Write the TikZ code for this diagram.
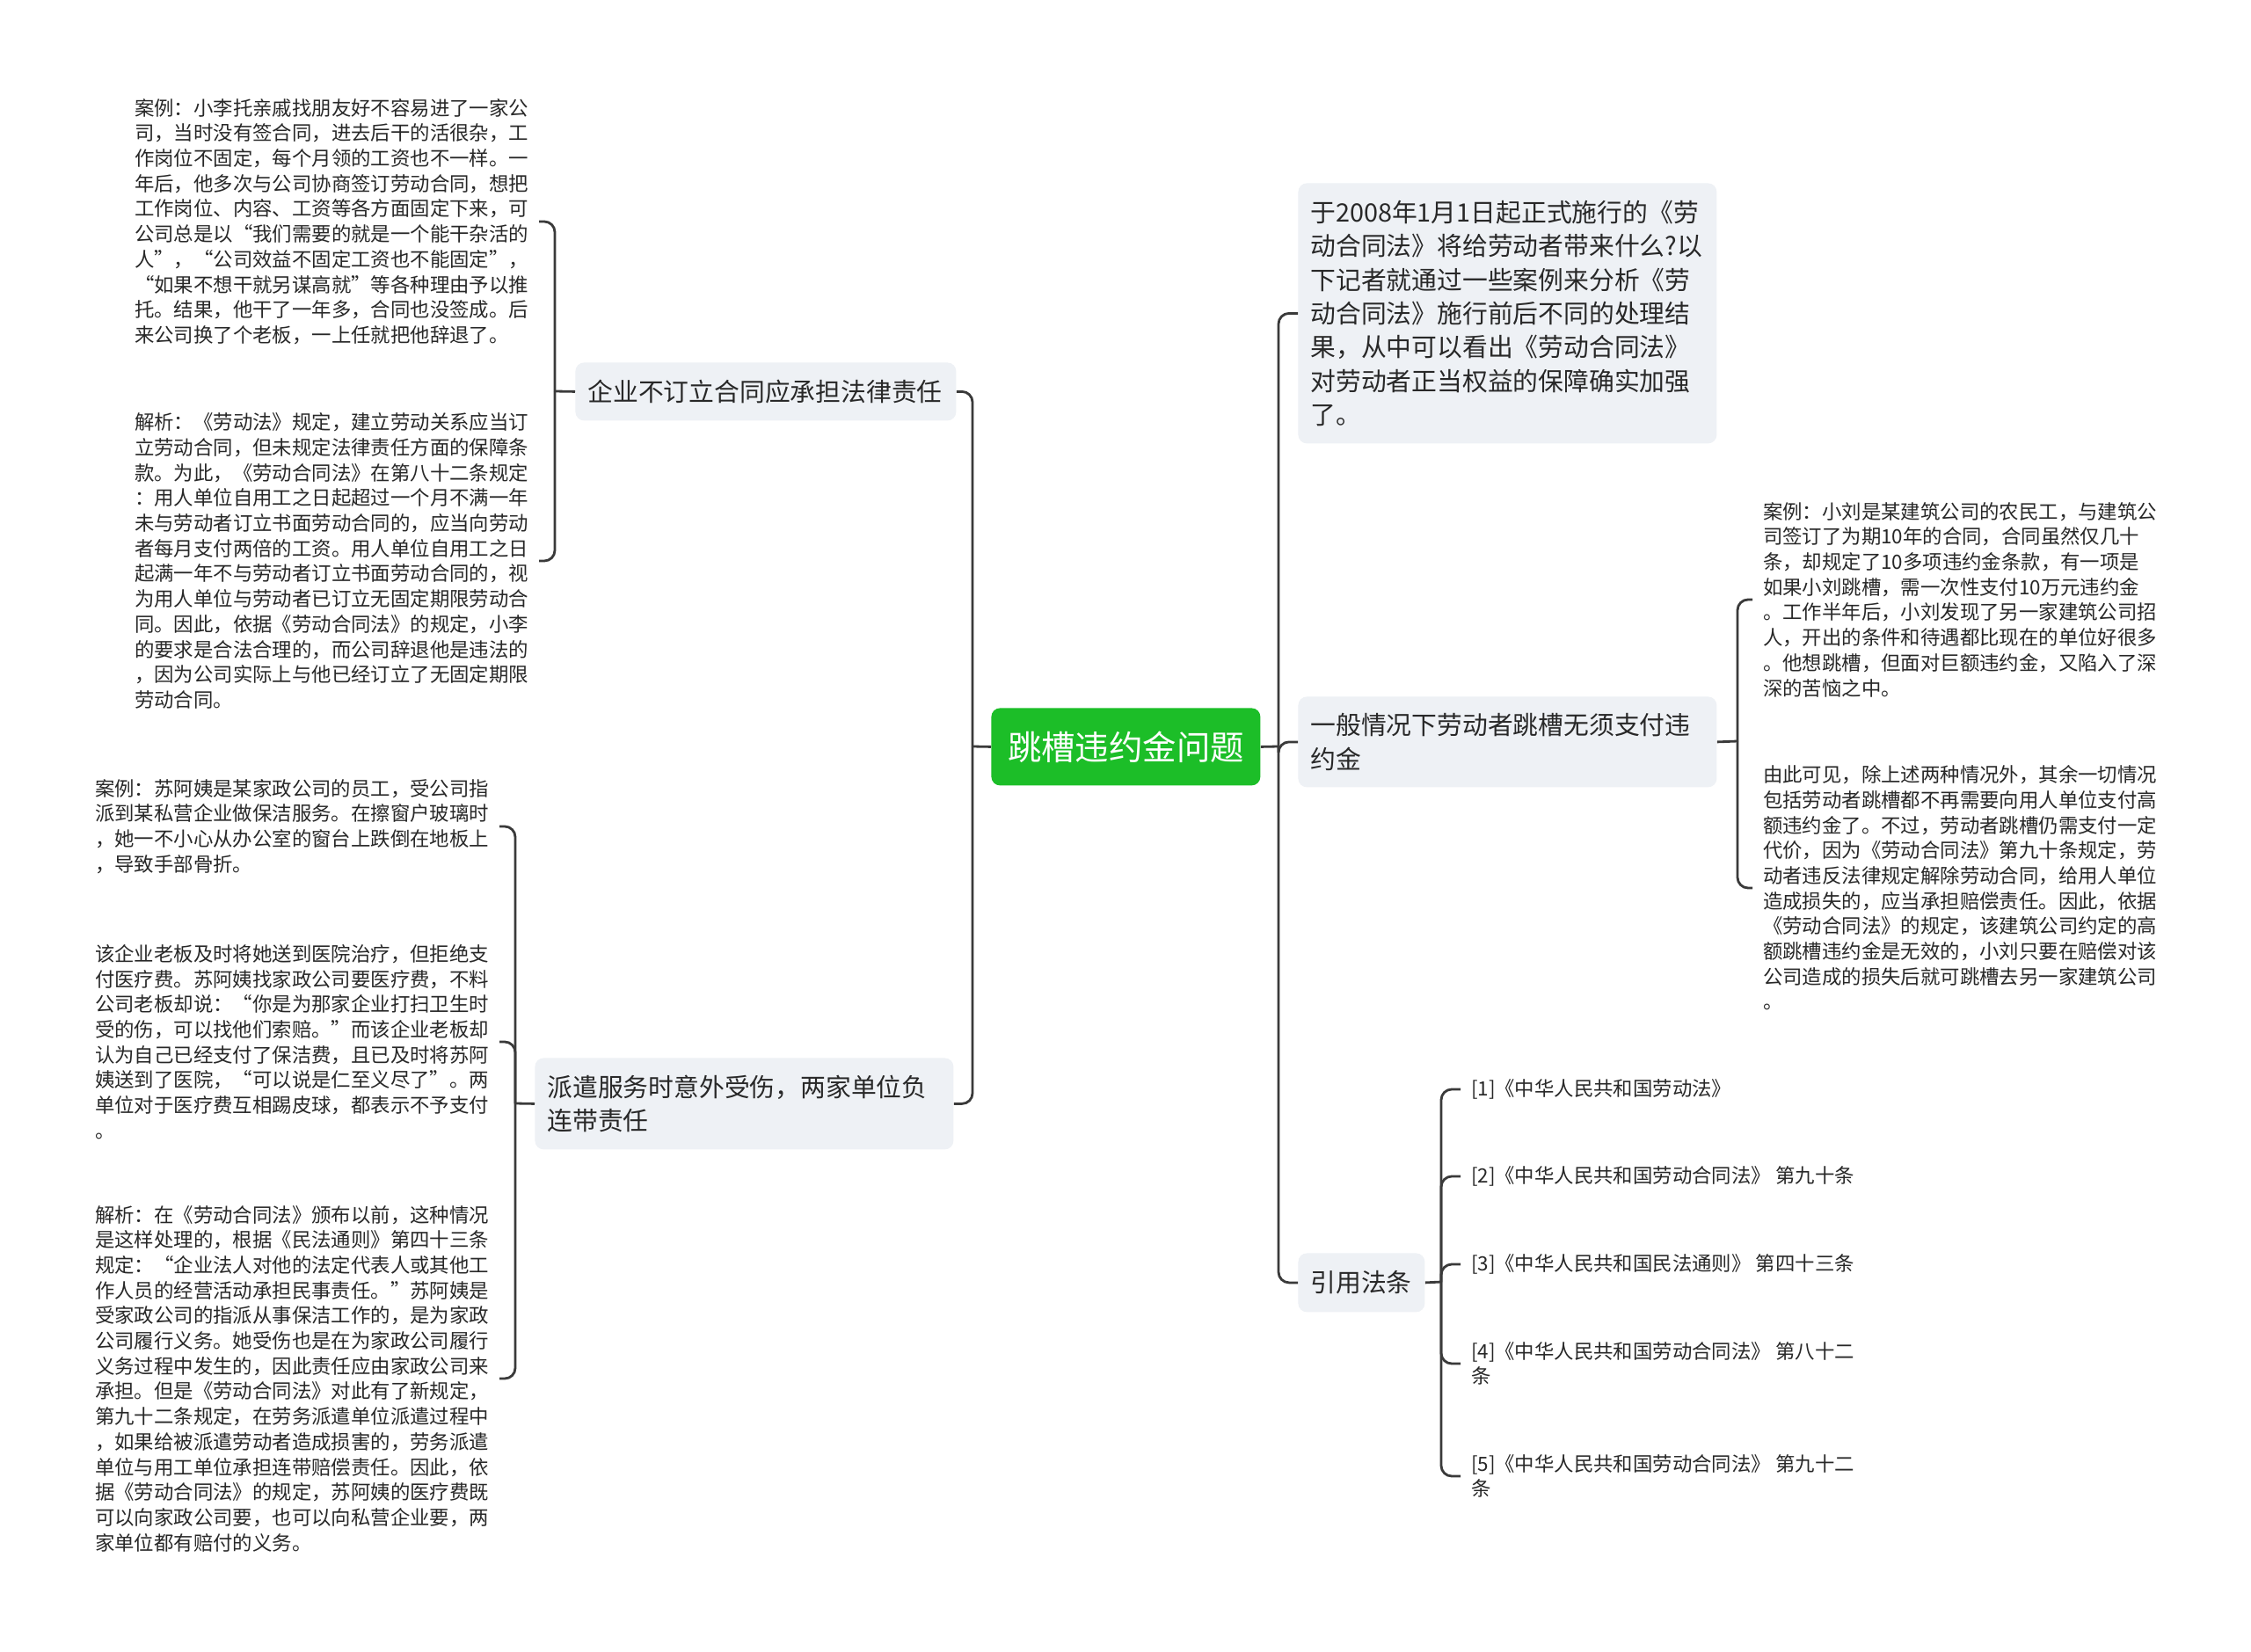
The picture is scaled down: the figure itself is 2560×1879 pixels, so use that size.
\documentclass[tikz,border=0pt]{standalone}
\usepackage{fontspec}
\setmainfont{Noto Sans CJK SC}
\newfontfamily\cjk{Noto Sans CJK SC}
\definecolor{rootgreen}{RGB}{28,190,40}
\definecolor{boxfill}{RGB}{238,241,245}
\definecolor{linecol}{RGB}{58,58,58}
\definecolor{txtcol}{RGB}{40,40,40}
\begin{document}
\begin{tikzpicture}[x=0.5pt,y=-0.5pt,
  conn/.style={draw=linecol,line width=1.4pt,rounded corners=6pt},
  leaf/.style={font=\cjk\fontsize{11.2}{14.35}\selectfont,text=txtcol,align=left,inner sep=0pt,outer xsep=6pt},
  topic/.style={font=\cjk\fontsize{14.4}{19.15}\selectfont,text=txtcol,fill=boxfill,rounded corners=5pt,align=left,inner xsep=7pt,inner ysep=0pt,anchor=north west},
  reftext/.style={font=\cjk\fontsize{11.2}{14}\selectfont,text=txtcol,align=left,inner sep=0pt,outer xsep=6pt,anchor=west}]
\useasboundingbox[fill=white] (0,0) rectangle (2560,1879);

% root
\node[fill=rootgreen,rounded corners=5pt,text=white,font=\cjk\fontsize{19.2}{22}\selectfont,
  minimum width=153pt,minimum height=44pt,inner sep=0pt,anchor=north west] (root) at (1127,805) {跳槽违约金问题};

% main topics
\node[topic,text width=202.5pt,minimum height=33pt] (b1) at (654,412) {企业不订立合同应承担法律责任};
\node[topic,text width=224pt,minimum height=52pt] (b2) at (608,1203) {派遣服务时意外受伤，两家单位负\\连带责任};
\node[topic,text width=224pt,minimum height=148pt] (b3) at (1476,208) {于2008年1月1日起正式施行的《劳\\动合同法》将给劳动者带来什么?以\\下记者就通过一些案例来分析《劳\\动合同法》施行前后不同的处理结\\果，从中可以看出《劳动合同法》\\对劳动者正当权益的保障确实加强\\了。};
\node[topic,text width=224pt,minimum height=51.5pt] (b4) at (1476,792) {一般情况下劳动者跳槽无须支付违\\约金};
\node[topic,text width=58pt,minimum height=33.5pt] (b5) at (1476,1425) {引用法条};

% leaves left
\node[leaf,anchor=west] (t1) at (141,252) {案例：小李托亲戚找朋友好不容易进了一家公\\司，当时没有签合同，进去后干的活很杂，工\\作岗位不固定，每个月领的工资也不一样。一\\年后，他多次与公司协商签订劳动合同，想把\\工作岗位、内容、工资等各方面固定下来，可\\公司总是以“我们需要的就是一个能干杂活的\\人”，“公司效益不固定工资也不能固定”，\\“如果不想干就另谋高就”等各种理由予以推\\托。结果，他干了一年多，合同也没签成。后\\来公司换了个老板，一上任就把他辞退了。};
\node[leaf,anchor=west] (t2) at (141,638) {解析：《劳动法》规定，建立劳动关系应当订\\立劳动合同，但未规定法律责任方面的保障条\\款。为此，《劳动合同法》在第八十二条规定\\：用人单位自用工之日起超过一个月不满一年\\未与劳动者订立书面劳动合同的，应当向劳动\\者每月支付两倍的工资。用人单位自用工之日\\起满一年不与劳动者订立书面劳动合同的，视\\为用人单位与劳动者已订立无固定期限劳动合\\同。因此，依据《劳动合同法》的规定，小李\\的要求是合法合理的，而公司辞退他是违法的\\，因为公司实际上与他已经订立了无固定期限\\劳动合同。};
\node[leaf,anchor=west] (t3) at (96,940) {案例：苏阿姨是某家政公司的员工，受公司指\\派到某私营企业做保洁服务。在擦窗户玻璃时\\，她一不小心从办公室的窗台上跌倒在地板上\\，导致手部骨折。};
\node[leaf,anchor=west] (t4) at (96,1185) {该企业老板及时将她送到医院治疗，但拒绝支\\付医疗费。苏阿姨找家政公司要医疗费，不料\\公司老板却说：“你是为那家企业打扫卫生时\\受的伤，可以找他们索赔。”而该企业老板却\\认为自己已经支付了保洁费，且已及时将苏阿\\姨送到了医院，“可以说是仁至义尽了”。两\\单位对于医疗费互相踢皮球，都表示不予支付\\。};
\node[leaf,anchor=west] (t5) at (96,1568) {解析：在《劳动合同法》颁布以前，这种情况\\是这样处理的，根据《民法通则》第四十三条\\规定：“企业法人对他的法定代表人或其他工\\作人员的经营活动承担民事责任。”苏阿姨是\\受家政公司的指派从事保洁工作的，是为家政\\公司履行义务。她受伤也是在为家政公司履行\\义务过程中发生的，因此责任应由家政公司来\\承担。但是《劳动合同法》对此有了新规定，\\第九十二条规定，在劳务派遣单位派遣过程中\\，如果给被派遣劳动者造成损害的，劳务派遣\\单位与用工单位承担连带赔偿责任。因此，依\\据《劳动合同法》的规定，苏阿姨的医疗费既\\可以向家政公司要，也可以向私营企业要，两\\家单位都有赔付的义务。};

% leaves right
\node[leaf,anchor=west] (t6) at (1993,682) {案例：小刘是某建筑公司的农民工，与建筑公\\司签订了为期10年的合同，合同虽然仅几十\\条，却规定了10多项违约金条款，有一项是\\如果小刘跳槽，需一次性支付10万元违约金\\。工作半年后，小刘发现了另一家建筑公司招\\人，开出的条件和待遇都比现在的单位好很多\\。他想跳槽，但面对巨额违约金，又陷入了深\\深的苦恼之中。};
\node[leaf,anchor=west] (t7) at (1993,1010) {由此可见，除上述两种情况外，其余一切情况\\包括劳动者跳槽都不再需要向用人单位支付高\\额违约金了。不过，劳动者跳槽仍需支付一定\\代价，因为《劳动合同法》第九十条规定，劳\\动者违反法律规定解除劳动合同，给用人单位\\造成损失的，应当承担赔偿责任。因此，依据\\《劳动合同法》的规定，该建筑公司约定的高\\额跳槽违约金是无效的，小刘只要在赔偿对该\\公司造成的损失后就可跳槽去另一家建筑公司\\。};

% references
\node[reftext] (r1) at (1661,1239) {[1]《中华人民共和国劳动法》};
\node[reftext] (r2) at (1661,1338) {[2]《中华人民共和国劳动合同法》 第九十条};
\node[reftext] (r3) at (1661,1438) {[3]《中华人民共和国民法通则》 第四十三条};
\node[reftext] (r4) at (1661,1551) {[4]《中华人民共和国劳动合同法》 第八十二\\条};
\node[reftext] (r5) at (1661,1679) {[5]《中华人民共和国劳动合同法》 第九十二\\条};

% junctions
\coordinate (jL) at (1106,849);
\coordinate (jR) at (1454,849);
\coordinate (j1) at (631,445);
\coordinate (j2) at (586,1255);
\coordinate (j4) at (1976,843);
\coordinate (j5) at (1639,1458);

% connectors
\draw[conn] (root.west) -- (jL);
\draw[conn] (root.east) -- (jR);
\draw[conn] (jL) |- (b1.east);
\draw[conn] (jL) |- (b2.east);
\draw[conn] (jR) |- (b3.west);
\draw[conn] (jR) |- (b4.west);
\draw[conn] (jR) |- (b5.west);

\draw[conn] (b1.west) -- (j1);
\draw[conn] (j1) |- (t1.east);
\draw[conn] (j1) |- (t2.east);

\draw[conn] (b2.west) -- (j2);
\draw[conn] (j2) |- (t3.east);
\draw[conn] (j2) |- (t4.east);
\draw[conn] (j2) |- (t5.east);

\draw[conn] (b4.east) -- (j4);
\draw[conn] (j4) |- (t6.west);
\draw[conn] (j4) |- (t7.west);

\draw[conn] (b5.east) -- (j5);
\draw[conn] (j5) |- (r1.west);
\draw[conn] (j5) |- (r2.west);
\draw[conn] (j5) |- (r3.west);
\draw[conn] (j5) |- (r4.west);
\draw[conn] (j5) |- (r5.west);
\end{tikzpicture}
\end{document}
